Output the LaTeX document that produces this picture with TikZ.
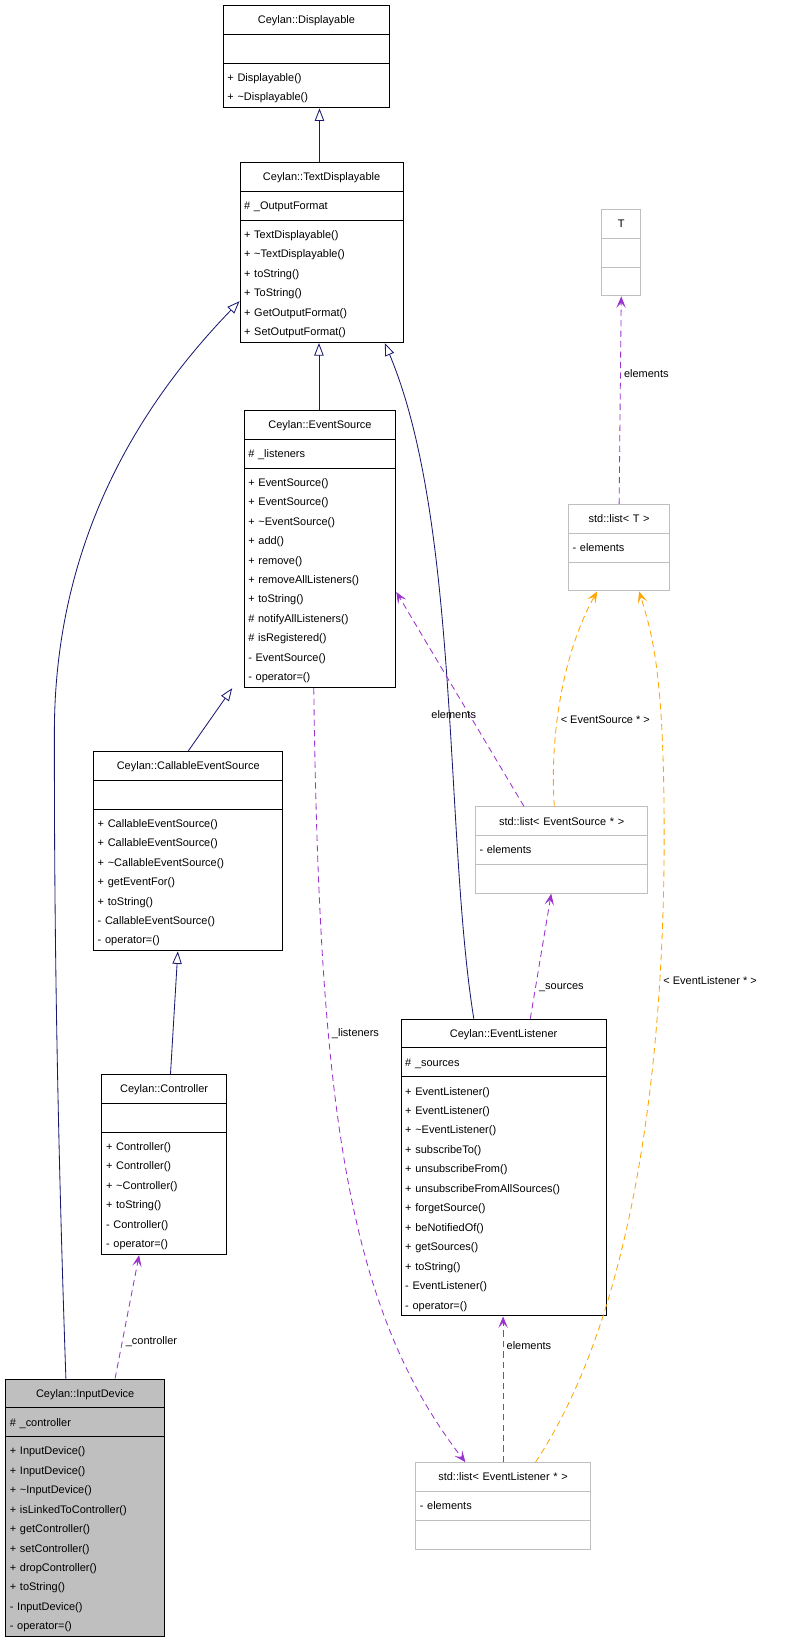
\documentclass[tikz,border=0pt]{standalone}
\usepackage{fontspec}
\setmainfont{Liberation Sans}
\usetikzlibrary{shapes.multipart, arrows.meta, positioning, calc}
\definecolor{edgeblue}{HTML}{191970}
\definecolor{usepurple}{HTML}{9A32CD}
\definecolor{tplorange}{HTML}{FFA500}
\definecolor{boxgray}{HTML}{BFBFBF}

\tikzset{
  cls/.style={draw=black, line width=0.9pt, rectangle split, rectangle split parts=3,
    anchor=north west, inner xsep=4pt, inner ysep=4pt, font=\fontsize{10.5}{18.6}\selectfont},
  tpl/.style={cls, draw=boxgray},
  focus/.style={cls, fill=boxgray},
  inherit/.style={draw=edgeblue, line width=0.8pt, -{Triangle[open, length=12pt, width=9pt]}},
  uses/.style={draw=usepurple, line width=0.8pt, dash pattern=on 6pt off 4pt, -{Stealth[length=11pt, width=9pt, inset=5pt]}},
  inst/.style={uses, draw=tplorange},
  lbl/.style={font=\fontsize{10.5}{12}\selectfont, fill=none, inner sep=1pt}
}
% class box: style, name, corner, width, title, attributes, methods
\newcommand{\umlclass}[7][cls]{%
  \node[#1, text width=#4-8pt] (#2) at (#3)
    {\hbox to\hsize{\hss\strut #5\hss}\nodepart{two}\strut #6\nodepart{three}\strut #7};}

\begin{document}
\begin{tikzpicture}[x=1pt, y=1pt]
\useasboundingbox (0,0) rectangle (750,-1568);

\umlclass{disp}{213,-5}{159}{Ceylan::Displayable}{}{+ Displayable()\\+ \textasciitilde Displayable()}
\umlclass{textdisp}{229,-155}{156}{Ceylan::TextDisplayable}{\# \_OutputFormat}{+ TextDisplayable()\\+ \textasciitilde TextDisplayable()\\+ toString()\\+ ToString()\\+ GetOutputFormat()\\+ SetOutputFormat()}
\umlclass[tpl]{tT}{575,-200}{37}{T}{}{}
\umlclass{evsrc}{233,-392}{145}{Ceylan::EventSource}{\# \_listeners}{+ EventSource()\\+ EventSource()\\+ \textasciitilde EventSource()\\+ add()\\+ remove()\\+ removeAllListeners()\\+ toString()\\\# notifyAllListeners()\\\# isRegistered()\\- EventSource()\\- operator=()}
\umlclass[tpl]{listT}{543,-482}{97}{std::list< T >}{- elements}{}
\umlclass{callsrc}{89,-718}{181}{Ceylan::CallableEventSource}{}{+ CallableEventSource()\\+ CallableEventSource()\\+ \textasciitilde CallableEventSource()\\+ getEventFor()\\+ toString()\\- CallableEventSource()\\- operator=()}
\umlclass[tpl]{listsrc}{454,-771}{165}{std::list< EventSource * >}{- elements}{}
\umlclass{evlis}{383,-974}{196}{Ceylan::EventListener}{\# \_sources}{+ EventListener()\\+ EventListener()\\+ \textasciitilde EventListener()\\+ subscribeTo()\\+ unsubscribeFrom()\\+ unsubscribeFromAllSources()\\+ forgetSource()\\+ beNotifiedOf()\\+ getSources()\\+ toString()\\- EventListener()\\- operator=()}
\umlclass{ctrl}{97,-1027}{119}{Ceylan::Controller}{}{+ Controller()\\+ Controller()\\+ \textasciitilde Controller()\\+ toString()\\- Controller()\\- operator=()}
\umlclass[focus]{indev}{5,-1318}{152}{Ceylan::InputDevice}{\# \_controller}{+ InputDevice()\\+ InputDevice()\\+ \textasciitilde InputDevice()\\+ isLinkedToController()\\+ getController()\\+ setController()\\+ dropController()\\+ toString()\\- InputDevice()\\- operator=()}
\umlclass[tpl]{listlis}{397,-1398}{167}{std::list< EventListener * >}{- elements}{}

% inheritance
\draw[inherit] ([xshift=-2pt]textdisp.north) -- ([xshift=-2pt]textdisp.north |- disp.south);
\draw[inherit] ([xshift=-1pt]evsrc.north) -- ([xshift=-1pt]evsrc.north |- textdisp.south);
\draw[inherit] ([xshift=58pt]indev.north west) .. controls (52,-1000) and (52,-800) .. (52,-700)
  .. controls (52,-500) and (150,-370) .. ([yshift=40pt]textdisp.south west);
\draw[inherit] ([xshift=70pt]evlis.north west) .. controls (425,-800) and (440,-500) .. ([xshift=-18pt]textdisp.south east);
\draw[inherit] ([xshift=91pt]callsrc.north west) -- ([xshift=-11pt]evsrc.south west);
\draw[inherit] ([xshift=66pt]ctrl.north west) -- ([xshift=81pt]callsrc.south west);

% associations
\draw[uses] ([xshift=105pt]indev.north west) -- node[lbl, right=2pt, pos=0.3] {\_controller} ([xshift=36pt]ctrl.south west);
\draw[uses] ([xshift=67pt]evsrc.south west) .. controls (305,-1050) and (330,-1250) .. ([xshift=48pt]listlis.north west)
  node[lbl, pos=0.33, right=2pt] {\_listeners};
\draw[uses] ([xshift=47pt]listsrc.north west) -- node[lbl, pos=0.43, left=-8pt] {elements} ([yshift=-41pt]evsrc.east);
\draw[uses] ([xshift=84pt]listlis.north west) -- node[lbl, right=2pt, pos=0.8] {elements} ([xshift=98pt]evlis.south west);
\draw[uses] ([xshift=124pt]evlis.north west) -- node[lbl, right=2pt, pos=0.25] {\_sources} ([xshift=73pt]listsrc.south west);
\draw[uses] (listT.north) -- node[lbl, right=2pt, pos=0.63] {elements} (tT.south);

% template instances
\draw[inst] ([xshift=76pt]listsrc.north west) .. controls (525,-700) and (540,-620) .. ([xshift=28pt]listT.south west)
  node[lbl, pos=0.38, right=2pt] {< EventSource * >};
\draw[inst] ([xshift=115pt]listlis.north west) .. controls (610,-1250) and (635,-1000) .. (635,-800)
  node[lbl, pos=0.78, right=2pt] {< EventListener * >}
  .. controls (635,-650) and (625,-610) .. ([xshift=68pt]listT.south west);
\end{tikzpicture}
\end{document}
